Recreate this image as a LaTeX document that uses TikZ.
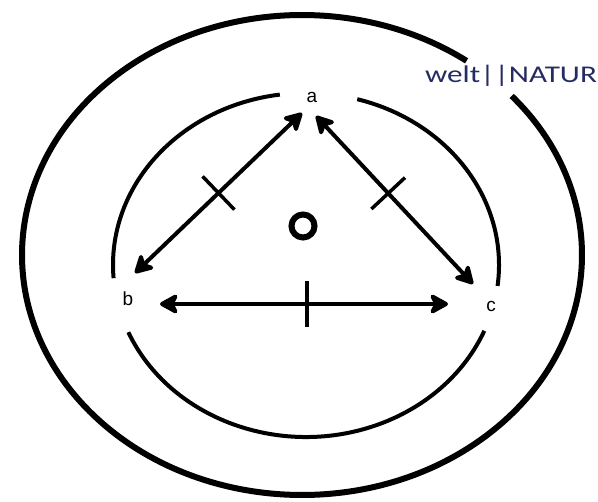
\documentclass[tikz,border=0pt]{standalone}
\usepackage{fontspec}
\setmainfont{Liberation Sans}
\newfontfamily\calibrifont{Carlito}
\usepackage{xcolor}
\usetikzlibrary{arrows.meta,positioning}
\definecolor{naturblue}{RGB}{36,44,98}

\begin{document}
\begin{tikzpicture}[x=1pt,y=1pt]
  \tikzset{letter/.style={font=\fontsize{19}{19}\selectfont,inner sep=0pt},
    link/.style={line width=4pt,{Stealth[length=22pt,width=24pt,inset=6pt,round]}-{Stealth[length=22pt,width=24pt,inset=6pt,round]}},
    tickmark/.style={minimum height=46pt,minimum width=0pt,inner sep=0pt,outer sep=0pt},
    tick/.style={line width=3.5pt}}
  \useasboundingbox (0,0) rectangle (598,-502);
  % outer ellipse, open where the label sits
  \draw[line width=6pt] (302,-255) ++(41.5:280 and 240) arc[start angle=41.5,end angle=-306,x radius=280,y radius=240];
  % inner ellipse, in three pieces
  \draw[line width=4pt] (306,-265) ++(97.8:193 and 172) arc[start angle=97.8,end angle=184.4,x radius=193,y radius=172];
  \draw[line width=4pt] (306,-265) ++(203:193 and 172) arc[start angle=203,end angle=337.5,x radius=193,y radius=172];
  \draw[line width=4pt] (306,-265) ++(-7:193 and 172) arc[start angle=-7,end angle=74.6,x radius=193,y radius=172];
  \node[text=naturblue,font=\calibrifont\fontsize{24}{24}\selectfont,inner sep=0pt,anchor=base,xscale=1.3] (natur) at (511,-83) {welt||NATUR};
  \node[letter] (a) at (312,-97) {a};
  \node[letter] (b) at (128,-299) {b};
  \node[letter] (c) at (491,-306) {c};
  \node[circle,draw,line width=6pt,minimum size=23pt,inner sep=0pt] (o) at (303,-226) {};
  % arrow ends next to the letters
  \coordinate (a-left) at (302,-113);
  \coordinate (a-right) at (316,-116);
  \coordinate (b-up) at (135,-273);
  \coordinate (b-right) at (160,-304);
  \coordinate (c-up) at (473,-284);
  \coordinate (c-left) at (448,-304);
  \draw[link] (a-left) -- node[tickmark,sloped,pos=.5] (ab) {} (b-up);
  \draw[link] (a-right) -- node[tickmark,sloped,pos=.46] (ac) {} (c-up);
  \draw[link] (b-right) -- node[tickmark,sloped,pos=.51] (bc) {} (c-left);
  \draw[tick] (ab.north) -- (ab.south);
  \draw[tick] (ac.north) -- (ac.south);
  \draw[tick] (bc.north) -- (bc.south);
\end{tikzpicture}
\end{document}
